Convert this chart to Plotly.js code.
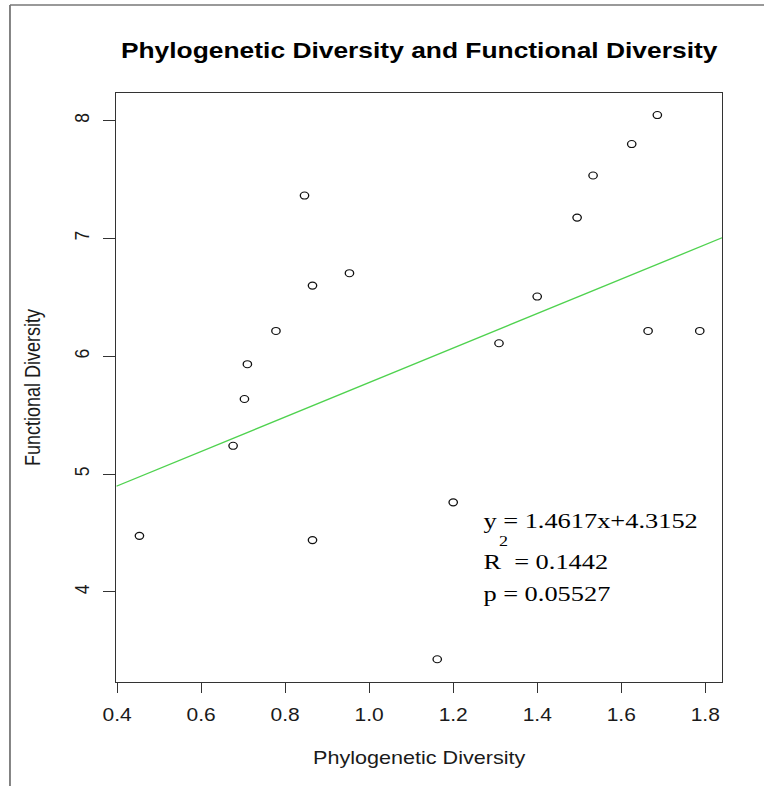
<!DOCTYPE html>
<html>
<head>
<meta charset="utf-8">
<script src="https://cdn.plot.ly/plotly-3.0.1.min.js"></script>
<style>
  html, body { margin: 0; padding: 0; overflow: hidden; background: #fff; }
  #chart { width: 637px; height: 786px; transform-origin: 0 0; }
</style>
</head>
<body>
<div id="chart"></div>
<script>
// Phylogenetic diversity (x) and functional diversity (y) per site
const phyloDiv = [0.453, 0.676, 0.703, 0.710, 0.778, 0.846, 0.865, 0.865, 0.953, 1.162,
                  1.200, 1.309, 1.400, 1.495, 1.533, 1.625, 1.664, 1.686, 1.787];
const funcDiv  = [4.476, 5.240, 5.637, 5.932, 6.214, 7.363, 6.599, 4.440, 6.704, 3.429,
                  4.760, 6.110, 6.506, 7.176, 7.533, 7.800, 6.214, 8.046, 6.214];

// Linear fit summary
const fitSlope = 1.4617;
const fitIntercept = 4.3152;
const fitR2 = 0.1442;
const fitP = 0.05527;

// Axis ticks
const xTicks = [0.4, 0.6, 0.8, 1.0, 1.2, 1.4, 1.6, 1.8];
const xTickText = ['0.4', '0.6', '0.8', '1.0', '1.2', '1.4', '1.6', '1.8'];
const yTicks = [4, 5, 6, 7, 8];
const yTickText = ['4', '5', '6', '7', '8'];

const xRange = [0.398, 1.840];
const yRange = [3.236, 8.233];

// Page is drawn at 637px and widened to fill the 764px window
const W = 637, H = 786;
const STRETCH = 764 / W;
document.getElementById('chart').style.transform = 'scaleX(' + STRETCH + ')';

const fitX = xRange.slice();
const fitY = fitX.map(x => fitIntercept + fitSlope * x);

const points = {
  type: 'scatter', mode: 'markers',
  x: phyloDiv, y: funcDiv,
  marker: { symbol: 'circle-open', size: 7, color: '#111', line: { width: 1.1, color: '#111' } },
  hoverinfo: 'x+y', showlegend: false
};

const fitLine = {
  type: 'scatter', mode: 'lines',
  x: fitX, y: fitY,
  line: { color: '#4fd24f', width: 1.3 },
  hoverinfo: 'skip', showlegend: false
};

const serif = 'Liberation Serif, Times New Roman, serif';
const sans = 'Liberation Sans, Arial, sans-serif';

const layout = {
  width: W, height: H,
  margin: { l: 97, r: 35, t: 93, b: 104, pad: 0 },
  paper_bgcolor: '#fff', plot_bgcolor: '#fff',
  font: { family: sans, color: '#1a1a1a' },
  title: {
    text: '<b>Phylogenetic Diversity and Functional Diversity</b>',
    font: { family: sans, size: 22, color: '#000' },
    x: 0.5, xref: 'paper', xanchor: 'center',
    y: 1 - 50 / H, yref: 'container', yanchor: 'middle'
  },
  xaxis: {
    range: xRange, autorange: false,
    tickvals: xTicks, ticktext: xTickText,
    ticks: 'outside', ticklen: 10, tickwidth: 1, tickcolor: '#333',
    showline: true, mirror: true, linecolor: '#333', linewidth: 1,
    showgrid: false, zeroline: false,
    tickfont: { family: sans, size: 17.5, color: '#1a1a1a' },
    ticklabelstandoff: 7,
    title: { text: 'Phylogenetic Diversity', font: { family: sans, size: 18, color: '#1a1a1a' }, standoff: 27 }
  },
  yaxis: {
    range: yRange, autorange: false,
    tickvals: yTicks, ticktext: yTickText, tickangle: -90,
    ticks: 'outside', ticklen: 10.5, tickwidth: 1, tickcolor: '#333',
    showline: true, mirror: true, linecolor: '#333', linewidth: 1,
    showgrid: false, zeroline: false,
    tickfont: { family: sans, size: 17.5, color: '#1a1a1a' },
    ticklabelstandoff: 4,
    title: { text: 'Functional Diversity', font: { family: sans, size: 18, color: '#1a1a1a' }, standoff: 19 }
  },
  annotations: [
    { x: 1.2673, y: 4.61, xref: 'x', yref: 'y', xanchor: 'left', yanchor: 'middle', showarrow: false,
      text: 'y = ' + fitSlope + 'x+' + fitIntercept, font: { family: serif, size: 22, color: '#000' } },
    { x: 1.2673, y: 4.26, xref: 'x', yref: 'y', xanchor: 'left', yanchor: 'middle', showarrow: false,
      text: 'R\u00a0 = ' + fitR2, font: { family: serif, size: 22, color: '#000' } },
    { x: 1.319, y: 4.43, xref: 'x', yref: 'y', xanchor: 'center', yanchor: 'middle', showarrow: false,
      text: '2', font: { family: serif, size: 15, color: '#000' } },
    { x: 1.2673, y: 3.99, xref: 'x', yref: 'y', xanchor: 'left', yanchor: 'middle', showarrow: false,
      text: 'p = ' + fitP, font: { family: serif, size: 22, color: '#000' } }
  ],
  shapes: [
    // outer frame edges (top and left)
    { type: 'line', xref: 'paper', yref: 'paper', x0: -0.1756, x1: 1.2, y0: 1.1494, y1: 1.1494,
      line: { color: '#777', width: 1.5 } },
    { type: 'line', xref: 'paper', yref: 'paper', x0: -0.1756, x1: -0.1756, y0: -0.2, y1: 1.1494,
      line: { color: '#777', width: 1.5 } }
  ]
};

Plotly.newPlot('chart', [fitLine, points], layout, { displayModeBar: false, staticPlot: true });
</script>
</body>
</html>
